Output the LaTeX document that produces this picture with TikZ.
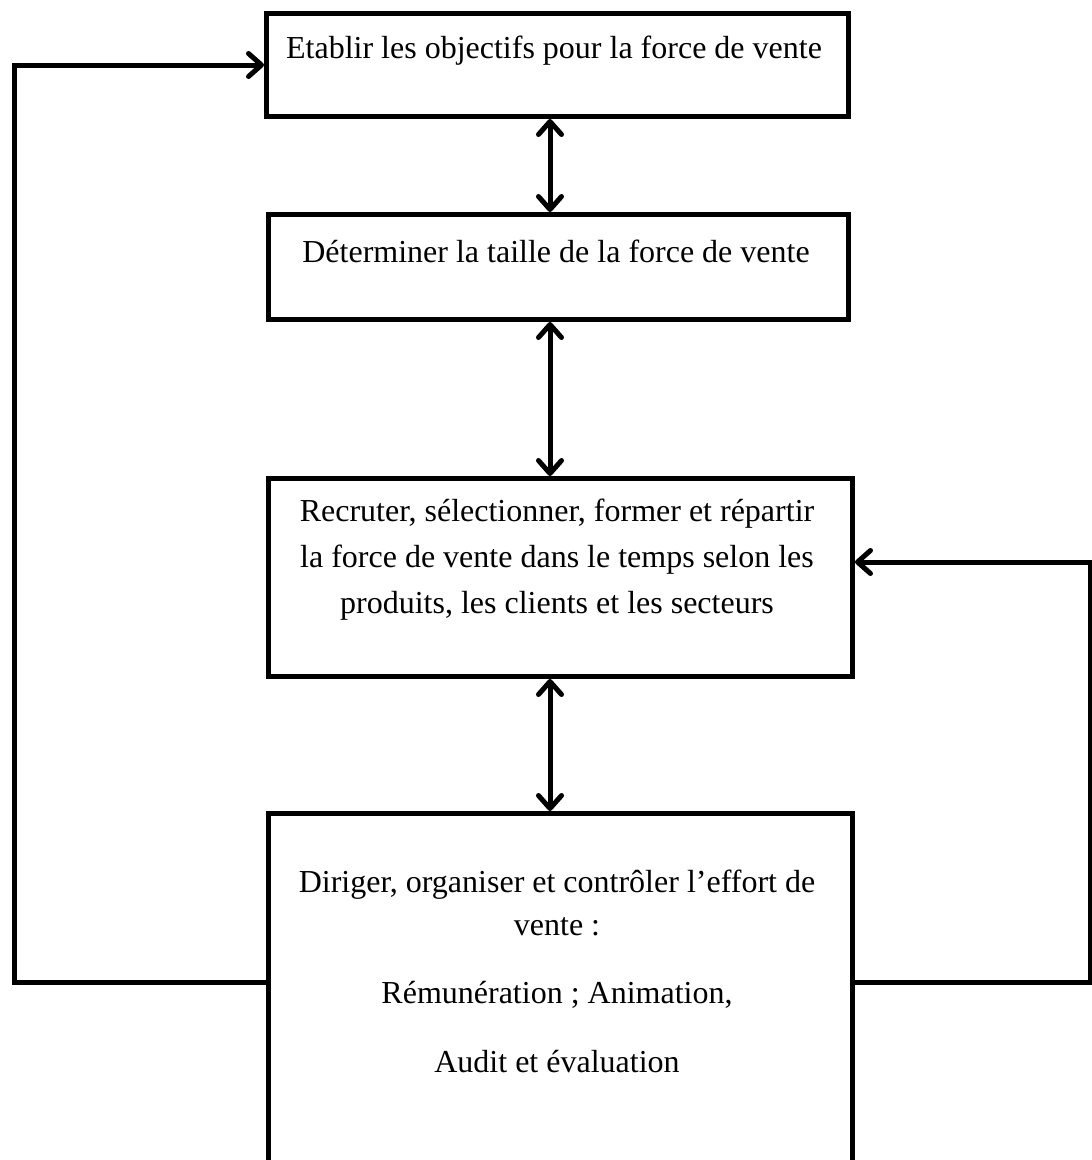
\documentclass[tikz,border=0pt]{standalone}
\usepackage{fontspec}
\setmainfont{Liberation Serif}
\usetikzlibrary{arrows.meta}
\begin{document}
\begin{tikzpicture}[x=1pt,y=-1pt,
  >={Straight Barb[length=13pt,width=23pt,line cap=round,line join=round]},
  stepbox/.style={draw=black, line width=5pt, rectangle, inner sep=0pt, anchor=north west},
  label/.style={font=\fontsize{32}{46}\selectfont, align=center, inner sep=0pt, anchor=base},
  link/.style={line width=5pt, line cap=round, line join=round, <->},
  feedback/.style={line width=5pt, line join=miter, ->}]
\useasboundingbox (0,0) rectangle (1092,1160);
\clip (0,0) rectangle (1092,1160);

% the four boxes of the process (the last one runs past the lower edge)
\node[stepbox, minimum width=582pt, minimum height=103pt] (b1) at (264,11) {};
\node[stepbox, minimum width=580pt, minimum height=105pt] (b2) at (266,212) {};
\node[stepbox, minimum width=584pt, minimum height=198pt] (b3) at (266,476) {};
\node[stepbox, minimum width=584pt, minimum height=380pt] (b4) at (266,811) {};

% texts
\node[label] (t1) at (554,58) {Etablir les objectifs pour la force de vente};
\node[label] (t2) at (556,262) {Déterminer la taille de la force de vente};
\node[label, anchor=north] (t3) at (557,499) {Recruter, sélectionner, former et répartir\\
  la force de vente dans le temps selon les\\ produits, les clients et les secteurs};
\node[label] (t4a) at (557,892) {Diriger, organiser et contrôler l’effort de};
\node[label] (t4b) at (557,935) {vente :};
\node[label] (t4c) at (557,1003) {Rémunération ; Animation,};
\node[label] (t4d) at (557,1072) {Audit et évaluation};

% links between successive boxes
\draw[link] (b1.south -| 550,0) -- (b2.north -| 550,0);
\draw[link] (b2.south -| 550,0) -- (b3.north -| 550,0);
\draw[link] (b3.south -| 550,0) -- (b4.north -| 550,0);

% feedback loops
\coordinate (l1) at (14,982);
\coordinate (l2) at (14,65);
\coordinate (r1) at (1090,982);
\coordinate (r2) at (1090,562);
\draw[feedback] (b4.west |- l1) -- (l1) -- (l2) -- (b1.west |- l2);
\draw[feedback] (b4.east |- r1) -- (r1) -- (r2) -- (b3.east |- r2);
\end{tikzpicture}
\end{document}
